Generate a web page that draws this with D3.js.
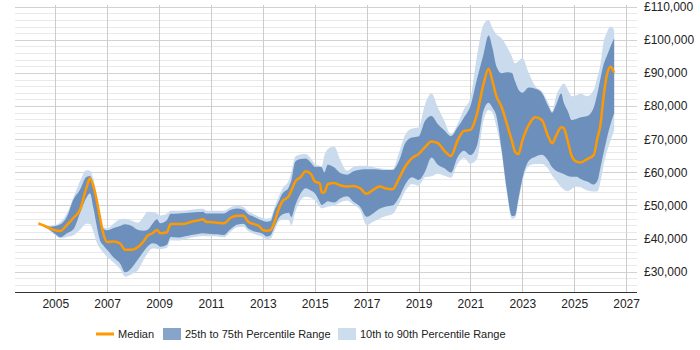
<!DOCTYPE html>
<html><head><meta charset="utf-8">
<script src="https://cdn.jsdelivr.net/npm/d3@7"></script>
<style>body{margin:0;background:#fff;}svg text{font-family:"Liberation Sans",Arial,sans-serif;}</style>
</head><body><svg id="c" width="700" height="350"></svg>
<script>
const years = [2004.35,2004.6,2004.8,2005.0,2005.2,2005.45,2005.7,2005.95,2006.2,2006.34,2006.47,2006.6,2006.72,2006.85,2007.0,2007.25,2007.5,2007.7,2007.95,2008.2,2008.4,2008.55,2008.75,2008.92,2009.05,2009.3,2009.45,2009.75,2010.0,2010.25,2010.5,2010.7,2010.8,2011.0,2011.25,2011.5,2011.75,2012.0,2012.25,2012.45,2012.6,2012.85,2013.0,2013.15,2013.3,2013.45,2013.6,2013.75,2014.0,2014.1,2014.25,2014.45,2014.65,2014.85,2015.0,2015.2,2015.27,2015.37,2015.5,2015.75,2016.0,2016.25,2016.5,2016.75,2017.0,2017.25,2017.5,2017.75,2018.0,2018.25,2018.5,2018.75,2019.0,2019.25,2019.5,2019.75,2020.0,2020.25,2020.5,2020.75,2021.0,2021.25,2021.5,2021.7,2021.85,2022.0,2022.2,2022.4,2022.6,2022.72,2022.85,2023.0,2023.25,2023.5,2023.75,2024.0,2024.15,2024.3,2024.5,2024.6,2024.75,2024.9,2025.1,2025.25,2025.5,2025.75,2025.9,2026.0,2026.15,2026.25,2026.4,2026.54];
const median = [44.6,43.8,43.1,42.5,42.3,44.1,46.2,48.6,55.2,58.2,55.8,51.6,46.6,41.6,39.0,39.1,38.5,36.6,36.6,37.5,39.1,40.8,41.6,42.6,41.6,41.9,44.4,44.4,44.5,45.1,45.5,45.8,45.1,45.0,44.8,44.6,46.2,46.9,46.9,45.0,44.5,43.8,42.6,42.4,42.6,45.0,48.6,51.2,52.8,54.5,57.2,58.5,60.3,59.5,57.3,56.6,53.9,53.9,56.4,56.8,56.0,55.7,55.9,55.2,53.5,54.7,55.7,55.1,54.9,58.2,61.9,64.3,65.5,67.6,69.3,68.8,66.5,64.9,69.5,72.5,72.8,77.5,86.5,91.3,87.5,83.0,79.8,74.8,69.5,66.2,65.5,69.5,74.3,76.6,75.8,70.8,68.8,71.0,73.6,73.3,69.5,65.0,63.2,63.0,64.0,65.2,70.5,73.8,84.0,89.0,91.9,90.1];
const p25 = [44.6,43.6,42.6,41.4,40.4,41.6,42.8,47.6,52.3,53.7,49.3,43.8,39.6,38.0,36.6,34.3,32.5,29.8,31.2,33.8,36.0,37.5,38.6,38.3,37.5,38.1,40.5,40.3,40.7,41.1,41.4,41.6,41.5,41.4,41.3,41.1,42.8,44.2,44.5,43.0,42.4,41.8,41.4,40.6,41.0,43.5,46.0,47.3,47.8,46.5,50.0,53.5,55.2,54.5,53.7,51.0,50.1,50.6,51.3,50.9,52.2,52.8,51.1,49.6,46.6,47.6,49.0,49.7,50.0,52.5,56.5,58.5,57.7,60.2,64.5,62.3,61.2,59.9,64.5,66.5,65.2,68.0,78.5,81.0,79.5,77.0,67.0,55.0,46.8,47.0,52.0,58.0,63.5,64.7,65.3,63.5,61.5,60.5,59.8,59.5,58.9,58.7,58.7,58.0,57.2,56.3,57.5,61.0,66.5,70.0,74.5,77.8];
const p75 = [44.6,44.0,43.6,43.8,44.3,46.6,51.8,54.7,58.6,58.9,56.5,52.0,47.0,43.0,42.5,43.2,43.8,44.3,43.8,42.6,42.4,42.6,44.5,45.8,44.6,45.5,47.5,47.6,47.7,47.9,48.0,48.1,47.6,47.6,47.6,47.6,48.6,49.1,48.7,47.3,46.8,45.8,45.4,45.1,45.3,48.5,51.0,53.5,55.5,57.5,63.2,64.0,64.2,63.0,61.7,61.7,61.5,60.0,62.3,61.5,59.7,59.3,60.3,60.8,60.9,60.9,60.8,60.7,60.7,63.5,69.0,70.5,70.8,75.5,77.0,74.5,72.6,70.9,73.5,76.5,80.0,88.0,95.5,101.3,97.5,92.0,89.9,90.2,90.0,87.5,85.0,84.0,85.6,85.2,84.0,80.0,78.0,80.3,83.8,81.0,78.5,75.8,76.2,76.6,77.0,79.5,84.0,87.9,93.0,95.0,98.0,100.5];
const p10 = [44.6,43.5,42.3,41.0,40.1,40.5,41.0,42.6,44.5,44.4,42.2,38.8,37.1,35.8,34.5,32.8,30.8,28.5,29.3,30.6,33.5,35.5,37.0,36.9,36.8,37.2,39.5,39.4,39.8,40.3,40.6,40.8,40.7,40.7,40.6,40.4,42.0,43.4,43.6,42.2,41.6,40.9,40.4,39.8,40.0,42.4,45.0,45.6,45.6,44.0,48.0,51.5,52.6,52.3,51.5,49.5,49.1,49.3,49.6,50.0,51.0,51.5,50.2,48.6,44.1,45.1,46.0,46.8,47.4,50.5,54.5,56.5,56.0,58.5,58.8,59.6,59.0,58.4,62.5,64.3,62.6,64.0,75.5,78.8,78.0,73.8,66.0,54.0,46.0,46.3,51.0,57.0,62.0,62.5,62.5,61.0,59.0,57.5,55.5,54.8,54.3,55.0,55.7,55.5,54.5,54.2,54.3,56.7,63.0,66.0,69.5,72.8];
const p90 = [44.6,44.1,43.8,44.0,45.0,47.6,52.3,57.2,60.6,60.5,58.0,53.0,47.8,43.6,43.1,44.5,45.8,46.0,45.4,44.8,46.5,48.1,48.0,47.6,47.0,47.5,48.4,48.4,48.5,48.7,48.9,49.0,48.5,48.4,48.4,48.4,49.4,49.9,49.5,48.2,47.6,46.6,46.2,46.0,46.2,49.5,52.5,55.0,57.5,60.0,64.7,65.4,65.5,64.2,62.7,62.0,61.9,65.0,67.0,67.8,63.5,60.5,61.7,62.0,62.0,61.6,61.2,61.0,60.9,66.0,71.5,73.2,73.5,80.5,83.8,79.5,75.5,71.5,74.5,79.0,82.5,95.0,104.5,106.0,103.5,101.7,100.5,98.0,95.0,92.9,93.5,94.5,90.0,86.0,84.5,81.0,78.5,83.0,86.0,86.8,85.0,83.0,83.3,83.7,83.0,84.8,89.0,92.0,100.0,102.0,104.0,103.0];
const xTicks = [2005,2007,2009,2011,2013,2015,2017,2019,2021,2023,2025,2027];
const yTicks = [30,40,50,60,70,80,90,100,110];
const legendLabels = ["Median","25th to 75th Percentile Range","10th to 90th Percentile Range"];

const svg = d3.select("#c");
const L = 15, R = 637, T = 5, B = 292;
const x = d3.scaleLinear().domain([2003.45, 2027.42]).range([L, R]);
const y = d3.scaleLinear().domain([30, 110]).range([271.7, 6.7]);

// horizontal gridlines
const minor = d3.range(24, 111, 2);
svg.append("g").selectAll("line").data(minor).join("line")
  .attr("x1", L).attr("x2", R)
  .attr("y1", d => Math.round(y(d)) + 0.5).attr("y2", d => Math.round(y(d)) + 0.5)
  .attr("stroke", d => d % 10 === 0 ? "#d2d2d2" : "#e9e9e9").attr("stroke-width", 1);
// vertical gridlines
svg.append("g").selectAll("line").data(xTicks).join("line")
  .attr("x1", d => Math.round(x(d)) + 0.5).attr("x2", d => Math.round(x(d)) + 0.5)
  .attr("y1", T).attr("y2", B)
  .attr("stroke", "#cccccc").attr("stroke-width", 1);

const data = years.map((t, i) => ({t, m: median[i], a: p25[i], b: p75[i], c: p10[i], d: p90[i]}));
const curve = d3.curveMonotoneX;
svg.append("path").datum(data)
  .attr("d", d3.area().curve(curve).x(d => x(d.t)).y0(d => y(d.c)).y1(d => y(d.d)))
  .attr("fill", "#c9dbed");
svg.append("path").datum(data)
  .attr("d", d3.area().curve(curve).x(d => x(d.t)).y0(d => y(d.a)).y1(d => y(d.b)))
  .attr("fill", "#6c90bb");
svg.append("path").datum(data)
  .attr("d", d3.line().curve(curve).x(d => x(d.t)).y(d => y(d.m)))
  .attr("fill", "none").attr("stroke", "#ff9900").attr("stroke-width", 2.5);

// x axis
const xa = svg.append("g").attr("transform", `translate(0,${B})`)
  .call(d3.axisBottom(x).tickValues(xTicks).tickFormat(d3.format("d")).tickSize(0).tickPadding(7));
xa.select(".domain").attr("stroke", "#333").attr("d", `M${L},0.5H${R}`);
xa.selectAll("text").attr("font-size", 12).attr("fill", "#222").attr("font-family", "Liberation Sans, Arial, sans-serif");

// y axis labels on right
const ya = svg.append("g").attr("transform", `translate(${R},0)`)
  .call(d3.axisRight(y).tickValues(yTicks).tickFormat(d => "£" + d3.format(",")(d * 1000)).tickSize(0).tickPadding(7));
ya.select(".domain").remove();
ya.selectAll("text").attr("font-size", 12).attr("fill", "#222").attr("font-family", "Liberation Sans, Arial, sans-serif");

// legend
const lg = svg.append("g");
lg.append("line").attr("x1", 96).attr("x2", 114).attr("y1", 334).attr("y2", 334)
  .attr("stroke", "#ff9900").attr("stroke-width", 3);
lg.append("text").attr("x", 118).attr("y", 338).text(legendLabels[0]);
lg.append("rect").attr("x", 163).attr("y", 328).attr("width", 18).attr("height", 12).attr("fill", "#86a5c8");
lg.append("text").attr("x", 185).attr("y", 338).text(legendLabels[1]);
lg.append("rect").attr("x", 338).attr("y", 328).attr("width", 18).attr("height", 12).attr("fill", "#ccdded");
lg.append("text").attr("x", 360).attr("y", 338).text(legendLabels[2]);
lg.selectAll("text").attr("font-size", 11).attr("fill", "#222");
</script></body></html>
